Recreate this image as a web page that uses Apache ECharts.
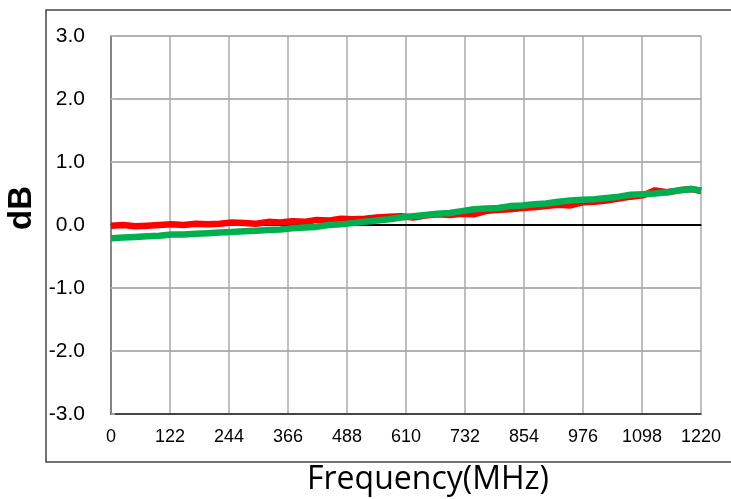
<!DOCTYPE html>
<html>
<head>
<meta charset="utf-8">
<script src="https://cdn.jsdelivr.net/npm/echarts@6/dist/echarts.min.js"></script>
<style>
  html, body { margin: 0; padding: 0; background: #fff; }
  #chart { width: 731px; height: 499px; }
</style>
</head>
<body>
<div id="chart"></div>
<script>
// frequency points (MHz)
const freqs = [0, 25, 50, 75, 100, 125, 150, 175, 200, 225, 250, 275, 300, 325, 350, 375, 400, 425, 450, 475,
  500, 525, 550, 575, 600, 625, 650, 675, 700, 725, 750, 775, 800, 825, 850, 875, 900, 925, 950, 975,
  1000, 1025, 1050, 1075, 1100, 1125, 1150, 1175, 1200, 1220];

// red trace (dB)
const redVals = [-0.01, 0.0, -0.02, -0.01, 0.0, 0.01, 0.0, 0.02, 0.01, 0.02, 0.04, 0.03, 0.02, 0.05, 0.04, 0.06, 0.05, 0.08, 0.07, 0.1,
  0.09, 0.1, 0.12, 0.13, 0.14, 0.12, 0.15, 0.17, 0.16, 0.18, 0.17, 0.22, 0.24, 0.25, 0.27, 0.28, 0.3, 0.32, 0.31, 0.36,
  0.37, 0.39, 0.42, 0.45, 0.47, 0.55, 0.52, 0.55, 0.57, 0.54];

// green trace (dB)
const greenVals = [-0.21, -0.2, -0.19, -0.18, -0.17, -0.15, -0.15, -0.14, -0.13, -0.12, -0.11, -0.1, -0.09, -0.08, -0.07, -0.05, -0.04, -0.03, 0.0, 0.01,
  0.03, 0.05, 0.07, 0.09, 0.12, 0.14, 0.16, 0.18, 0.19, 0.22, 0.25, 0.26, 0.27, 0.3, 0.31, 0.33, 0.34, 0.37, 0.39, 0.4,
  0.41, 0.43, 0.45, 0.48, 0.49, 0.5, 0.52, 0.55, 0.57, 0.55];

const chart = echarts.init(document.getElementById('chart'));

const labelFont = { fontFamily: 'Liberation Sans', color: '#000' };

const option = {
  backgroundColor: '#fff',
  animation: false,
  graphic: [
    {
      type: 'rect',
      shape: { x: 46, y: 10, width: 700, height: 452 },
      style: { fill: 'none', stroke: '#444', lineWidth: 1.5 },
      z: -1
    }
  ],
  grid: { left: 111, right: 30, top: 36, bottom: 85, outerBoundsMode: 'none' },
  xAxis: [
    {
      type: 'value',
      min: 0, max: 1220, interval: 122,
      name: 'Frequency(MHz)',
      nameLocation: 'middle',
      nameGap: 50,
      nameTextStyle: { fontFamily: 'Open Sans', fontSize: 32, color: '#000', padding: [0, 0, 0, 44] },
      axisLine: { show: true, onZero: false, lineStyle: { color: '#222', width: 1.5 } },
      axisTick: { show: false },
      axisLabel: Object.assign({ fontSize: 18, margin: 14, formatter: v => String(v) }, labelFont),
      splitLine: { show: true, lineStyle: { color: '#aaa', width: 1.5 } }
    },
    {
      type: 'value',
      position: 'top',
      min: 0, max: 1220, interval: 122,
      axisLine: { show: true, lineStyle: { color: '#222', width: 1.5 } },
      axisTick: { show: false },
      axisLabel: { show: false },
      splitLine: { show: false }
    }
  ],
  yAxis: [
    {
      type: 'value',
      min: -3, max: 3, interval: 1,
      name: 'dB',
      nameLocation: 'middle',
      nameGap: 61,
      nameTextStyle: { fontFamily: 'Liberation Sans', fontSize: 33, fontWeight: 'bold', color: '#000', padding: [0, 0, 0, 34] },
      axisLine: { show: true, lineStyle: { color: '#222', width: 1.5 } },
      axisTick: { show: false },
      axisLabel: Object.assign({ fontSize: 21, margin: 26, formatter: v => v.toFixed(1) }, labelFont),
      splitLine: { show: true, lineStyle: { color: '#999', width: 1.5 } }
    },
    {
      type: 'value',
      position: 'right',
      min: -3, max: 3, interval: 1,
      axisLine: { show: true, lineStyle: { color: '#999', width: 1.5 } },
      axisTick: { show: true, inside: false, length: 4, lineStyle: { color: '#bbb', width: 1.5 } },
      axisLabel: { show: false },
      splitLine: { show: false }
    }
  ],
  series: [
    {
      name: 'red',
      type: 'line',
      data: freqs.map((f, i) => [f, redVals[i]]),
      showSymbol: false,
      lineStyle: { color: '#ff0000', width: 6.5 },
      itemStyle: { color: '#ff0000' },
      z: 3,
      markLine: {
        silent: true,
        symbol: 'none',
        label: { show: false },
        lineStyle: { color: '#000', width: 2, type: 'solid' },
        data: [{ yAxis: 0 }],
        z: 2
      }
    },
    {
      name: 'green',
      type: 'line',
      data: freqs.map((f, i) => [f, greenVals[i]]),
      showSymbol: false,
      lineStyle: { color: '#00b050', width: 6.5 },
      itemStyle: { color: '#00b050' },
      z: 4
    }
  ]
};

chart.setOption(option);
window.addEventListener('resize', () => chart.resize());
</script>
</body>
</html>
